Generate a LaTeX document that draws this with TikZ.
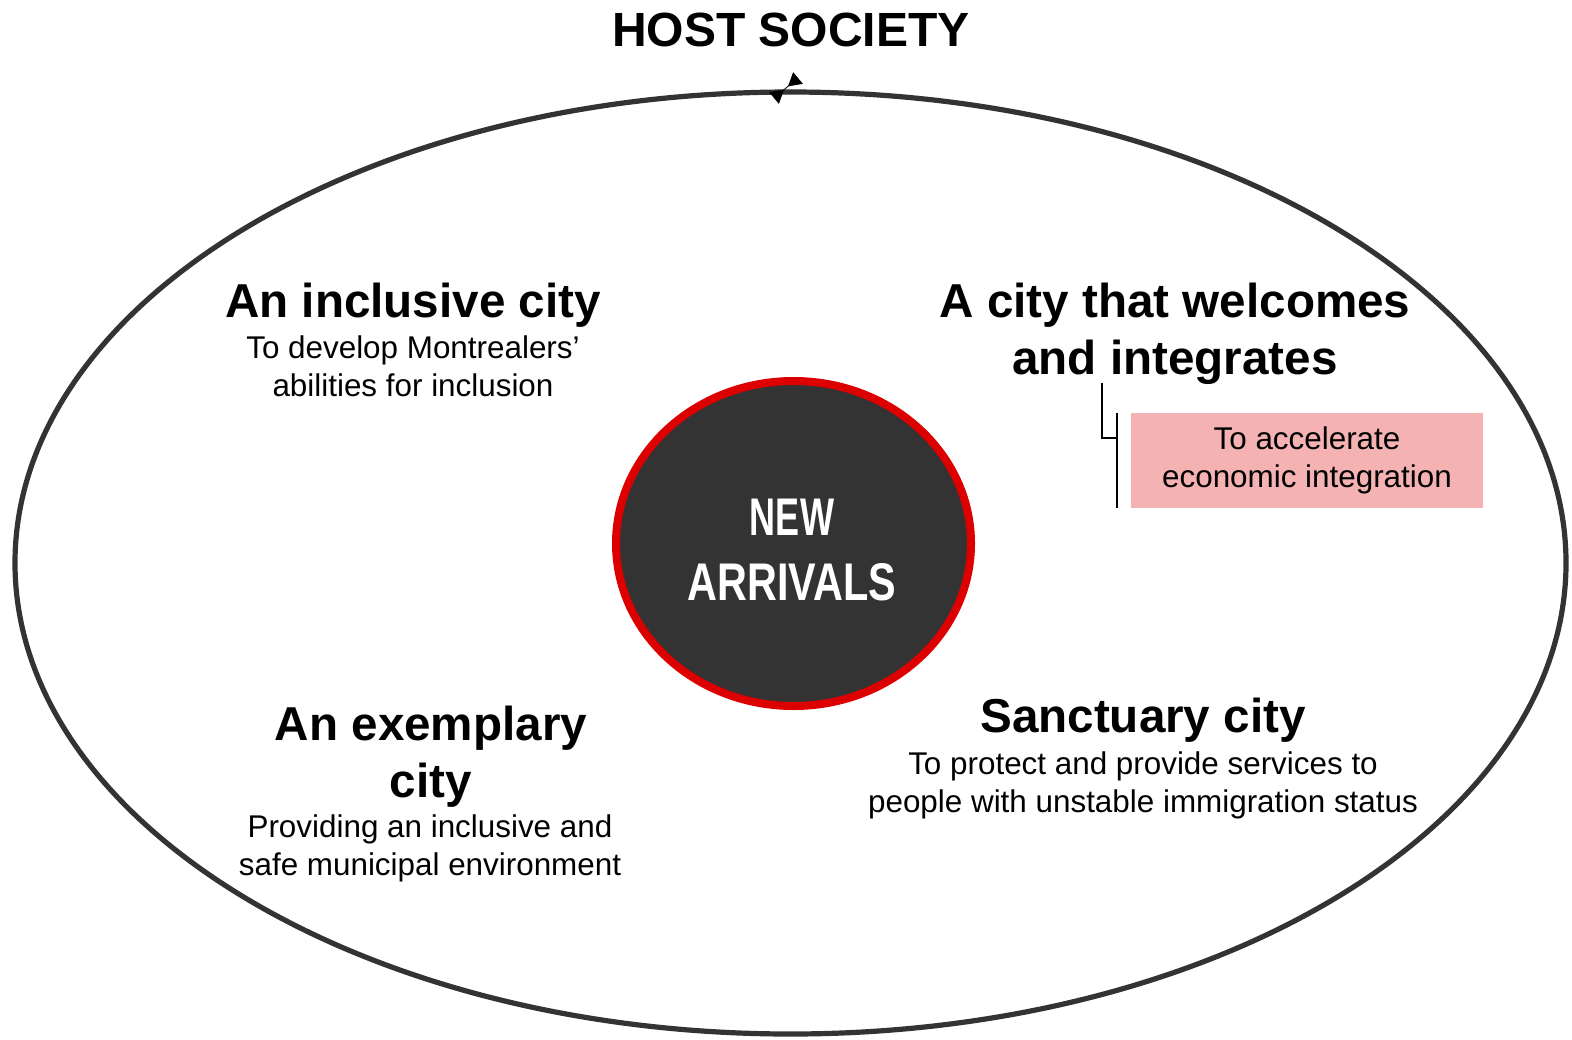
\documentclass[tikz,border=0pt]{standalone}
\usepackage{fontspec}
\setmainfont{Liberation Sans}
\usepackage{graphicx}
\usepackage{xcolor}
\usetikzlibrary{arrows.meta, shapes.geometric, positioning, calc}

\definecolor{ringgrey}{HTML}{333333}
\definecolor{ringred}{HTML}{DD0000}
\definecolor{goalpink}{HTML}{F4B2B2}

\tikzset{
	head/.style={font=\bfseries\fontsize{23.8}{28.5}\selectfont, align=center, anchor=base, inner sep=0pt},
	sub/.style={font=\fontsize{15.7}{19}\selectfont, align=center, anchor=base, inner sep=0pt},
	bracket/.style={line width=1pt, black},
}

\begin{document}
\begin{tikzpicture}[x=0.5pt, y=-0.5pt]
			\useasboundingbox (0,0) rectangle (1572,1039);
			
			% host society ring
			\draw[ringgrey, line width=2.6pt] (790.5,563) ellipse [x radius=387.75pt, y radius=235.5pt];
			\node[font=\bfseries\fontsize{24}{29}\selectfont, anchor=base, inner sep=0pt] (host) at (791,46) {HOST SOCIETY};
			\coordinate (tieA) at (774,98);
			\coordinate (tieB) at (798,78);
			\draw[{Triangle[reversed,length=6.5pt,width=7.5pt]}-{Triangle[reversed,length=6.5pt,width=7.5pt]}] (tieA) -- (tieB);
			
			% new arrivals in the middle
			\node[ellipse, draw=ringred, line width=4pt, fill=ringgrey, minimum width=177.5pt, minimum height=162.5pt] (arrivals) at (793.5,543.5) {};
			% (base of a two-line node = last line)
			\node[text=white, font=\bfseries\fontsize{26.5}{32.5}\selectfont, align=center, anchor=base, inner sep=0pt] (arrtext) at (792,600)
				{\scalebox{0.68}[1]{NEW}\\\scalebox{0.78}[1]{ARRIVALS}};
			
			% the four goals
			\node[head] (inclusive) at (413,317) {An inclusive city};
			\node[sub] (inclusivesub) at (413,396) {To develop Montrealers’\\abilities for inclusion};
			
			\node[head] (welcomes) at (1175,374) {A city that welcomes\\and integrates};
			\node[sub, anchor=center, fill=goalpink, minimum width=176pt, minimum height=47.5pt] (accel) at (1307,460.5) {To accelerate\\economic integration};
			\draw[bracket] ($(accel.north west)+(-29,-30)$) |- ($(accel.north west)+(-14,25)$);
			\draw[bracket] ($(accel.north west)+(-14,0)$) -- ($(accel.south west)+(-14,0)$);
			
			\node[head] (exemplary) at (431,797) {An exemplary\\city};
			\node[sub] (exemplarysub) at (430,875) {Providing an inclusive and\\safe municipal environment};
			
			\node[head] (sanctuary) at (1143,732) {Sanctuary city};
			\node[sub] (sanctuarysub) at (1143,812) {To protect and provide services to\\people with unstable immigration status};
		\end{tikzpicture}
\end{document}
